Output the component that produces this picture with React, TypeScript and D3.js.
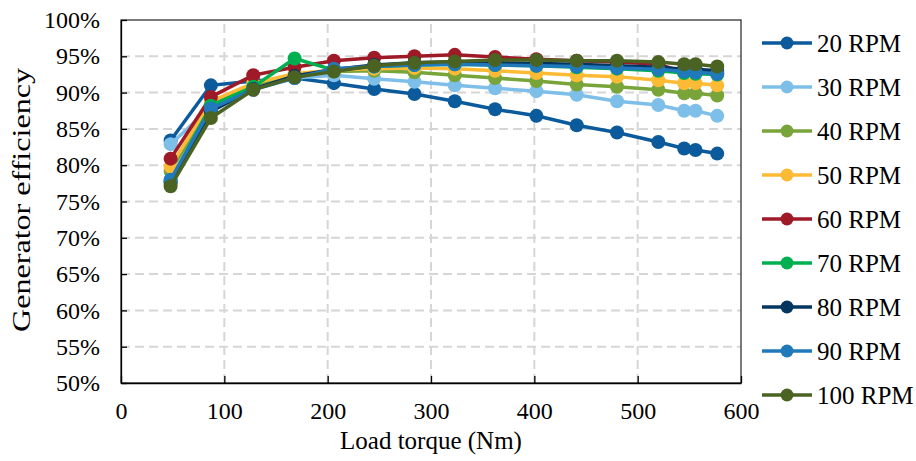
import React, { useEffect, useRef } from "react";
import * as d3 from "d3";

const W = 916;
const H = 461;
const margin = { left: 121, right: 175, top: 20, bottom: 78 };

// load torque (Nm) at each measuring point
const torque = [48, 87, 128, 168, 206, 245, 284, 323, 362, 402, 441, 480, 520, 545, 556, 577];

const rpm20 = [83.4, 91.0, 91.6, 92.0, 91.3, 90.5, 89.8, 88.8, 87.7, 86.8, 85.5, 84.5, 83.2, 82.3, 82.1, 81.6];
const rpm30 = [82.9, 88.0, 90.8, 92.0, 92.4, 91.9, 91.5, 91.0, 90.6, 90.2, 89.7, 88.8, 88.3, 87.5, 87.5, 86.8];
const rpm40 = [79.2, 88.4, 91.0, 92.4, 92.9, 93.0, 92.8, 92.4, 92.0, 91.6, 91.1, 90.8, 90.4, 89.9, 89.9, 89.6];
const rpm50 = [79.8, 88.8, 91.3, 92.6, 93.1, 93.3, 93.4, 93.3, 93.0, 92.7, 92.4, 92.2, 91.7, 91.3, 91.3, 91.0];
const rpm60 = [80.9, 89.4, 92.4, 93.5, 94.4, 94.8, 95.0, 95.2, 94.9, 94.6, 94.4, 94.2, 93.9, 92.8, 93.0, 92.7];
const rpm70 = [77.8, 88.2, 90.8, 94.7, 93.1, 93.6, 93.8, 93.9, 93.8, 93.7, 93.5, 93.3, 93.0, 92.7, 92.6, 92.5];
const rpm80 = [77.6, 87.4, 90.5, 92.3, 93.2, 93.8, 94.1, 94.2, 94.1, 94.0, 93.9, 93.7, 93.5, 93.2, 93.2, 93.0];
const rpm90 = [78.0, 87.8, 90.4, 92.0, 93.3, 93.6, 93.8, 93.9, 93.8, 93.7, 93.6, 93.4, 93.2, 92.9, 92.8, 92.6];
const rpm100 = [77.1, 86.5, 90.4, 92.1, 92.9, 93.7, 94.1, 94.3, 94.5, 94.5, 94.4, 94.4, 94.2, 93.9, 93.9, 93.6];

const names = ["20 RPM", "30 RPM", "40 RPM", "50 RPM", "60 RPM", "70 RPM", "80 RPM", "90 RPM", "100 RPM"];
const values = [rpm20, rpm30, rpm40, rpm50, rpm60, rpm70, rpm80, rpm90, rpm100];
const colors = ["#0b5a9b", "#7dbfe9", "#78a43a", "#fdba35", "#9f1a27", "#00b050", "#053660", "#2079ba", "#4b6322"];

const xTicks = [0, 100, 200, 300, 400, 500, 600];
const yTicks = [50, 55, 60, 65, 70, 75, 80, 85, 90, 95, 100];

const font = "'Liberation Serif', 'Times New Roman', serif";

export default function App() {
  const xAxisRef = useRef<SVGGElement>(null);
  const yAxisRef = useRef<SVGGElement>(null);

  const x = d3.scaleLinear().domain([0, 600]).range([margin.left, W - margin.right]);
  const y = d3.scaleLinear().domain([50, 100]).range([H - margin.bottom, margin.top]);

  const line = d3
    .line<number>()
    .x((_, i) => x(torque[i]))
    .y(d => y(d));

  useEffect(() => {
    const xa = d3.axisBottom(x).tickValues(xTicks).tickSizeInner(-7).tickSizeOuter(0);
    const ya = d3
      .axisLeft(y)
      .tickValues(yTicks)
      .tickSizeInner(-6)
      .tickSizeOuter(0)
      .tickPadding(21)
      .tickFormat(d => `${d}%`);
    const gx = d3.select(xAxisRef.current!).call(xa);
    const gy = d3.select(yAxisRef.current!).call(ya);
    gx.selectAll("text").attr("y", 28).attr("dy", "0.35em");
    [gx, gy].forEach(g => {
      g.selectAll("path").attr("stroke", "#000").attr("stroke-width", 1.3);
      g.selectAll("line").attr("stroke", "#000").attr("stroke-width", 1.3);
      g.selectAll("text").attr("fill", "#000").style("font-family", font).style("font-size", "24px");
    });
  }, []);

  const x0 = margin.left;
  const x1 = W - margin.right;
  const y0 = H - margin.bottom;
  const y1 = margin.top;

  return (
    <svg width={W} height={H} style={{ position: "absolute", left: 0, top: 0, background: "#fff" }}>
      {/* grid */}
      {yTicks.slice(1, -1).map(t => (
        <line key={"gy" + t} x1={x0} x2={x1} y1={y(t)} y2={y(t)} stroke="#d6d6d6" strokeWidth={2} strokeDasharray="9,5" />
      ))}
      {xTicks.slice(1, -1).map(t => (
        <line key={"gx" + t} x1={x(t)} x2={x(t)} y1={y0} y2={y1} stroke="#d6d6d6" strokeWidth={2} strokeDasharray="9,5" />
      ))}
      <rect x={x0} y={y1} width={x1 - x0} height={y0 - y1} fill="none" stroke="#222" strokeWidth={1.2} />

      <g ref={xAxisRef} transform={`translate(0,${y0})`} />
      <g ref={yAxisRef} transform={`translate(${x0},0)`} />

      {/* series */}
      {values.map((vals, s) => (
        <g key={names[s]}>
          <path d={line(vals) || ""} fill="none" stroke={colors[s]} strokeWidth={3.5} />
          {vals.map((v, i) => (
            <circle key={i} cx={x(torque[i])} cy={y(v)} r={7} fill={colors[s]} />
          ))}
        </g>
      ))}

      {/* legend */}
      {names.map((n, i) => {
        const ly = 43 + i * 44;
        return (
          <g key={"lg" + n}>
            <line x1={762} x2={812} y1={ly} y2={ly} stroke={colors[i]} strokeWidth={3.5} />
            <circle cx={787} cy={ly} r={6.5} fill={colors[i]} />
            <text x={817} y={ly} dy="0.35em" fontFamily={font} fontSize={25} fill="#000">
              {n}
            </text>
          </g>
        );
      })}

      {/* axis titles */}
      <text x={(x0 + x1) / 2} y={449} textAnchor="middle" fontFamily={font} fontSize={25} fill="#000">
        Load torque (Nm)
      </text>
      <text
        transform={`translate(30,200) rotate(-90)`}
        textAnchor="middle"
        fontFamily={font}
        fontSize={26}
        textLength={264}
        lengthAdjust="spacingAndGlyphs"
        fill="#000"
      >
        Generator efficiency
      </text>
    </svg>
  );
}
